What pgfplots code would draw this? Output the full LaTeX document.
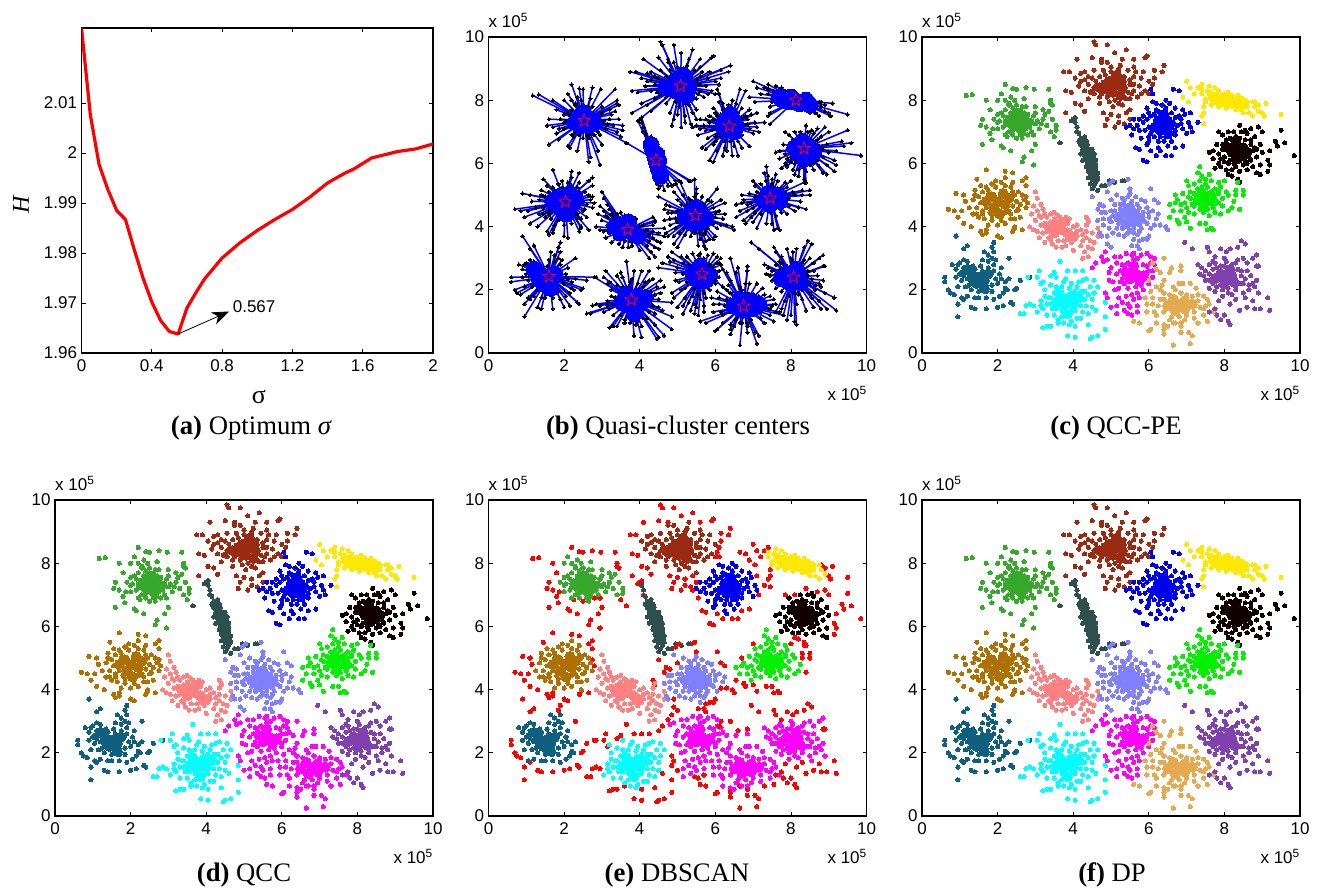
\documentclass[border=0pt]{standalone}
\usepackage{pgfplots}
\usepackage{fontspec}
\pgfplotsset{compat=1.18}
\usetikzlibrary{arrows.meta}
\setmainfont{Liberation Sans}
\newfontfamily\ser{Liberation Serif}
\definecolor{cgreen}{HTML}{36A82B}\definecolor{cbrown}{HTML}{9A2B12}\definecolor{cblue}{HTML}{0000F0}
\definecolor{cyel}{HTML}{FFE800}\definecolor{cslate}{HTML}{2F4F4F}\definecolor{cblack}{HTML}{100000}
\definecolor{corange}{HTML}{B07000}\definecolor{csalmon}{HTML}{FF8080}\definecolor{cperi}{HTML}{8080FF}
\definecolor{clime}{HTML}{00F000}\definecolor{cteal}{HTML}{0F6080}\definecolor{ccyan}{HTML}{00FFFF}
\definecolor{cmag}{HTML}{FF00FF}\definecolor{csand}{HTML}{E5AA50}\definecolor{cpurp}{HTML}{8040B0}
\pgfdeclareplotmark{ostar}{%
 \pgfpathmoveto{\pgfpointpolar{90}{\pgfplotmarksize}}%
 \pgfpathlineto{\pgfpointpolar{126}{0.42\pgfplotmarksize}}\pgfpathlineto{\pgfpointpolar{162}{\pgfplotmarksize}}%
 \pgfpathlineto{\pgfpointpolar{198}{0.42\pgfplotmarksize}}\pgfpathlineto{\pgfpointpolar{234}{\pgfplotmarksize}}%
 \pgfpathlineto{\pgfpointpolar{270}{0.42\pgfplotmarksize}}\pgfpathlineto{\pgfpointpolar{306}{\pgfplotmarksize}}%
 \pgfpathlineto{\pgfpointpolar{342}{0.42\pgfplotmarksize}}\pgfpathlineto{\pgfpointpolar{18}{\pgfplotmarksize}}%
 \pgfpathlineto{\pgfpointpolar{54}{0.42\pgfplotmarksize}}\pgfpathclose\pgfusepathqstroke}
% ---------- cluster tables: K core, M middle, A retained, B outer
\pgfplotstableread[row sep=\\]{x y\\2.55 7.35\\2.4 7.45\\2.7 7.4\\2.45 7.2\\2.65 7.2\\2.5 7.6\\2.3 7.3\\2.8 7.3\\}\tKa
\pgfplotstableread[row sep=\\]{x y\\2.1 7.6\\2.25 7.45\\2.35 7.6\\2.5 7.85\\2.65 7.8\\2.8 7.55\\2.95 7.5\\3.05 7.35\\2.9 7.35\\3.15 7.25\\2.85 7.15\\2.75 7.1\\2.55 7.05\\2.35 7.15\\2.15 7.15\\2.05 7.35\\2.2 7.35\\2.3 7.85\\2.45 8.0\\2.75 7.8\\3.0 7.8\\3.25 7.55\\3.45 7.4\\2.6 6.9\\2.2 6.9\\2.0 7.55\\2.35 8.1\\2.7 8.05\\}\tMa
\pgfplotstableread[row sep=\\]{x y\\2.0 8.0\\2.1 8.2\\2.2 8.0\\2.3 7.9\\2.2 7.7\\2.4 7.75\\2.6 7.7\\2.7 7.6\\3 7.6\\3.2 7.7\\3.35 7.65\\3.2 7.4\\3.3 7.2\\3.55 7.2\\3.55 7.05\\3.4 7\\3.1 7.1\\3 7.25\\2.9 7.0\\2.7 6.95\\2.6 7.0\\2.4 7.05\\2.3 7.0\\2.2 7.25\\2.0 7.1\\2.0 7.3\\2.15 7.5\\1.9 7.4\\2.4 6.9\\2.65 6.8\\}\tAa
\pgfplotstableread[row sep=\\]{x y\\1.17 8.15\\1.33 8.18\\2.2 8.5\\2.5 8.35\\2.4 8.37\\2.75 8.4\\2.97 8.35\\3.35 8.35\\3.4 8.0\\3.4 7.9\\3.45 7.85\\1.7 8.0\\1.8 7.7\\1.6 7.4\\1.55 7.2\\1.7 7.15\\1.87 7.1\\1.8 6.95\\1.85 6.75\\1.6 6.6\\2.1 6.55\\2.15 6.5\\2.25 6.85\\2.5 6.8\\2.8 6.9\\2.95 6.9\\3.0 6.6\\2.35 6.4\\2.9 6.4\\3.5 6.85\\3.65 6.65\\2.65 6.05\\2.7 6.2\\2.95 5.95\\}\tBa
\pgfplotstableread[row sep=\\]{x y\\5.1 8.5\\4.95 8.6\\5.2 8.65\\5.3 8.4\\4.9 8.35\\5.05 8.25\\5.15 8.8\\4.85 8.5\\5.25 8.15\\4.7 8.4\\}\tKb
\pgfplotstableread[row sep=\\]{x y\\4.5 8.3\\4.6 8.6\\4.7 8.75\\4.85 8.8\\5.0 8.9\\5.2 9.0\\5.35 8.6\\5.5 8.65\\5.6 8.5\\5.55 8.2\\5.4 8.05\\5.1 8.0\\4.9 8.1\\4.75 8.2\\4.55 8.4\\5.65 8.9\\4.4 8.75\\4.3 8.9\\5.05 7.8\\5.5 7.7\\5.9 8.3\\6.0 8.6\\5.0 8.7\\4.45 8.25\\4.2 8.6\\5.3 9.3\\4.9 9.2\\5.8 8.2\\}\tMb
\pgfplotstableread[row sep=\\]{x y\\4.05 8.7\\4.2 8.85\\4.15 8.45\\4.3 8.65\\4.4 8.5\\4.5 8.7\\4.55 8.95\\4.3 8.3\\4.55 8.2\\4.7 8.1\\4.4 8.05\\4.7 7.9\\4.95 7.95\\5.2 7.9\\5.3 7.85\\5.5 8.05\\5.6 8.3\\5.75 8.45\\5.8 8.7\\5.6 8.75\\5.45 8.95\\5.25 9.1\\5.6 9.05\\5.85 8.9\\5.0 9.05\\4.8 8.95\\5.35 8.75\\5.5 8.5\\5.45 8.25\\4.6 8.45\\5.7 8.1\\4.75 9.2\\}\tAb
\pgfplotstableread[row sep=\\]{x y\\4.55 9.85\\4.6 9.75\\4.9 9.75\\5.4 9.6\\5.1 9.5\\4.5 9.35\\4.75 9.3\\3.75 8.9\\3.9 8.9\\4.1 9.3\\5.6 9.3\\5.9 9.35\\5.95 9.4\\6.15 8.95\\6.4 9.1\\6.15 8.7\\6.35 8.9\\6.1 8.5\\3.8 8.3\\3.95 8.25\\3.8 7.6\\4.05 7.9\\4.2 7.85\\4.3 7.65\\4.0 7.4\\4.8 7.6\\5.0 7.55\\5.2 7.5\\5.4 7.6\\5.2 7.3\\4.9 7.4\\5.35 7.25\\4.85 7.2\\5.1 7.15\\5.5 7.4\\6.0 8.2\\}\tBb
\pgfplotstableread[row sep=\\]{x y\\6.37 7.2\\6.25 7.35\\6.5 7.35\\6.3 7.05\\6.5 7.0\\6.4 7.55\\6.2 7.15\\6.55 7.2\\}\tKc
\pgfplotstableread[row sep=\\]{x y\\5.95 7.4\\6.05 7.5\\6.15 7.55\\6.25 7.65\\6.45 7.75\\6.6 7.6\\6.7 7.45\\6.65 7.3\\6.7 7.05\\6.6 6.95\\6.45 6.85\\6.3 6.85\\6.1 7.05\\6.0 7.15\\6.4 6.7\\6.25 6.7\\6.55 6.85\\6.85 7.25\\5.75 7.4\\6.2 7.9\\6.45 8.0\\6.0 6.85\\5.95 6.6\\6.3 6.4\\7.1 7.15\\5.75 7.05\\}\tMc
\pgfplotstableread[row sep=\\]{x y\\6.1 7.95\\6.35 7.85\\6.55 7.9\\6.7 7.75\\6.9 7.7\\6.95 7.55\\6.85 7.4\\7.05 7.3\\6.75 7.2\\6.9 7.1\\7.0 6.95\\6.7 6.9\\6.6 6.7\\6.5 6.55\\6.25 6.5\\6.0 6.7\\5.8 6.8\\6.05 6.95\\5.9 7.05\\5.7 7.2\\5.6 7.4\\5.85 7.5\\5.6 7.1\\5.85 7.3\\6.0 7.6\\5.95 7.75\\6.2 7.7\\6.1 7.2\\6.15 6.85\\6.8 7.5\\5.5 7.2\\}\tAc
\pgfplotstableread[row sep=\\]{x y\\6.05 8.35\\6.1 8.2\\6.65 8.35\\6.8 8.3\\5.4 7.15\\5.55 6.9\\7.1 7.6\\7.3 7.3\\7.15 7.0\\5.65 6.5\\5.75 6.45\\5.85 6.1\\5.95 6.05\\6.05 6.4\\6.2 6.25\\6.45 6.25\\6.6 6.25\\6.7 6.5\\6.9 6.55\\}\tBc
\pgfplotstableread[row sep=\\]{x y\\7.7 8.1\\7.9 8.05\\8.1 8.0\\8.3 7.95\\8.5 7.85\\7.8 8.0\\8.0 8.1\\8.2 7.9\\8.4 8.0\\7.95 7.95\\}\tKd
\pgfplotstableread[row sep=\\]{x y\\7.6 8.2\\7.8 8.2\\8.0 8.2\\8.2 8.1\\8.4 7.9\\8.6 7.8\\8.6 7.95\\7.8 7.95\\7.65 8.25\\7.5 8.05\\8.2 8.15\\8.1 7.9\\8.35 7.8\\8.65 7.6\\8.45 7.7\\}\tMd
\pgfplotstableread[row sep=\\]{x y\\7.4 8.2\\7.4 8.35\\7.55 8.3\\7.6 8.45\\7.75 8.4\\7.85 8.3\\8.1 8.25\\8.35 8.15\\8.55 8.0\\8.75 7.95\\8.8 7.8\\8.9 7.65\\8.75 7.5\\8.5 7.6\\8.3 7.7\\8.05 7.75\\7.85 7.8\\7.65 7.85\\7.5 7.95\\}\tAd
\pgfplotstableread[row sep=\\]{x y\\7 8.6\\6.9 8.1\\7.1 8.4\\7.3 8.4\\7.4 8.5\\7.2 8.2\\7.05 7.95\\7.45 7.8\\7.45 7.6\\7.4 7.5\\8.8 7.95\\9.1 7.9\\8.9 7.85\\9.0 7.6\\9.05 7.5\\9.5 7.55\\7.45 7.25\\}\tBd
\pgfplotstableread[row sep=\\]{x y\\4.3 6.6\\4.35 6.4\\4.4 6.2\\4.45 6.0\\4.5 5.8\\4.55 5.6\\4.45 6.3\\4.5 6.1\\}\tKe
\pgfplotstableread[row sep=\\]{x y\\4.2 6.6\\4.3 6.75\\4.35 6.55\\4.3 6.25\\4.35 6.1\\4.35 5.9\\4.4 5.95\\4.6 6.1\\4.6 5.85\\4.55 6.3\\4.5 6.45\\4.45 5.65\\4.5 5.5\\4.55 5.3\\4.65 5.5\\4.2 6.65\\4.25 6.45\\4.35 6.7\\}\tMe
\pgfplotstableread[row sep=\\]{x y\\4.05 7.3\\4.1 7.15\\4.15 6.95\\4.2 6.8\\4.15 6.7\\4.3 6.85\\4.25 6.55\\4.2 6.3\\4.25 6.1\\4.4 5.75\\4.4 5.55\\4.45 5.35\\4.6 5.95\\4.65 5.7\\4.6 5.4\\4.5 5.2\\4.75 5.3\\4.65 5.15\\4.85 5.3\\4.95 5.45\\5.1 5.4\\5.3 5.45\\}\tAe
\pgfplotstableread[row sep=\\]{x y\\3.95 7.35\\4.05 7.45\\4.1 7.0\\3.65 6.65\\5.35 5.45\\}\tBe
\pgfplotstableread[row sep=\\]{x y\\8.35 6.45\\8.2 6.35\\8.5 6.5\\8.3 6.7\\8.45 6.25\\8.1 6.5\\8.6 6.35\\8.35 6.15\\}\tKf
\pgfplotstableread[row sep=\\]{x y\\7.85 6.3\\7.95 6.45\\7.95 6.6\\8.05 6.65\\8.15 6.8\\8.4 6.8\\8.55 6.75\\8.7 6.75\\8.75 6.4\\8.8 6.5\\8.65 6.2\\8.55 6.1\\8.5 5.95\\8.25 6.0\\8.15 6.1\\7.9 6.15\\8.6 6.0\\8.3 5.9\\8.0 6.05\\7.9 5.9\\8.75 5.9\\8.85 6.45\\8.25 7.0\\8.55 7.05\\8.05 5.8\\}\tMf
\pgfplotstableread[row sep=\\]{x y\\7.7 6.4\\7.8 6.6\\7.95 6.9\\8.05 6.75\\8.3 6.85\\8.45 7.0\\8.6 6.95\\8.8 6.85\\8.95 6.6\\9.0 6.35\\8.85 6.2\\8.95 5.95\\8.85 5.7\\8.95 5.65\\8.6 5.8\\8.4 5.75\\8.2 5.8\\8.1 6.0\\7.85 6.0\\7.7 6.15\\7.6 6.35\\7.75 5.85\\8.0 6.2\\8.7 6.6\\8.7 6.1\\}\tAf
\pgfplotstableread[row sep=\\]{x y\\8.4 7.2\\8.7 7.1\\8.9 7.15\\8.1 7.0\\7.85 7.0\\9.0 7.0\\9.2 6.4\\9.15 6.1\\9.2 5.95\\9.15 5.75\\9.35 6.7\\9.4 6.55\\9.5 7.05\\9.6 6.65\\9.85 6.25\\8.2 5.6\\8.35 5.5\\8.4 5.4\\8.1 5.65\\}\tBf
\pgfplotstableread[row sep=\\]{x y\\2.03 4.8\\1.85 4.95\\2.15 5.05\\2.2 4.7\\1.9 4.6\\2.05 4.4\\1.7 4.8\\2.3 4.9\\}\tKg
\pgfplotstableread[row sep=\\]{x y\\1.5 4.95\\1.6 5.1\\1.75 5.15\\1.95 5.25\\2.2 5.3\\2.35 5.25\\2.45 5.0\\2.5 4.8\\2.4 4.65\\2.3 4.5\\2.2 4.45\\1.8 4.45\\1.7 4.6\\1.55 4.75\\1.45 4.4\\1.85 4.35\\2.35 4.4\\2.55 4.55\\2.65 5.0\\2.1 5.4\\1.85 5.35\\1.6 4.4\\2.1 4.2\\2.45 4.25\\1.75 4.05\\1.4 5.0\\}\tMg
\pgfplotstableread[row sep=\\]{x y\\1.4 5.15\\1.35 4.85\\1.45 4.6\\1.55 5.3\\1.7 5.25\\1.95 5.45\\2.2 5.55\\2.4 5.4\\2.55 5.1\\2.7 4.85\\2.6 4.7\\2.75 4.6\\2.5 4.5\\2.6 4.3\\2.35 4.25\\2.2 4.1\\2.0 4.05\\1.85 4.2\\1.65 4.25\\1.5 4.3\\1.35 4.4\\1.25 4.6\\1.6 4.5\\2.45 4.0\\1.75 5.0\\2.4 5.1\\}\tAg
\pgfplotstableread[row sep=\\]{x y\\0.7 4.55\\0.85 4.5\\0.95 4.3\\1.1 4.1\\1.05 4.5\\1.1 5.0\\0.9 5.05\\1.15 4.8\\1.45 5.5\\1.7 5.8\\2.2 5.75\\2.4 5.7\\2.65 5.45\\2.75 5.3\\2.75 5.55\\2.75 4.95\\2.8 4.75\\1.55 3.85\\1.7 3.9\\1.6 3.75\\1.7 3.8\\2.0 3.7\\2.1 3.65\\2.4 3.85\\2.45 3.95\\2.65 3.9\\1.3 4.0\\}\tBg
\pgfplotstableread[row sep=\\]{x y\\3.7 3.9\\3.55 4.05\\3.85 3.8\\3.5 3.8\\3.7 4.15\\3.95 3.7\\3.35 4.0\\}\tKh
\pgfplotstableread[row sep=\\]{x y\\3.3 3.85\\3.4 4.15\\3.5 4.25\\3.65 4.3\\3.85 4.1\\4.0 4.0\\4.1 3.85\\4.25 3.75\\4.1 3.7\\3.95 3.5\\3.75 3.55\\3.6 3.55\\3.4 3.6\\3.2 3.8\\3.15 4.05\\3.15 4.3\\3.45 3.45\\3.85 3.6\\4.35 3.65\\4.45 3.55\\4.2 3.4\\3.7 3.35\\3.25 4.4\\4.35 4.05\\3.5 4.45\\3.8 4.3\\2.95 4.65\\3.1 4.35\\}\tMh
\pgfplotstableread[row sep=\\]{x y\\2.85 4.0\\2.95 3.9\\3.0 4.2\\2.9 4.4\\3.05 4.5\\3.15 4.7\\3.05 4.9\\3.0 5.1\\3.2 4.55\\3.3 4.3\\3.4 4.4\\3.6 4.35\\3.9 4.25\\4.1 4.05\\4.2 3.9\\4.35 3.85\\4.5 3.8\\4.65 3.7\\4.55 3.5\\4.4 3.35\\4.3 3.2\\4.25 3.0\\4.4 3.05\\4.5 3.3\\4.0 3.25\\3.8 3.4\\3.55 3.35\\3.25 3.5\\3.1 3.65\\3.35 3.65\\3.05 3.85\\4.05 3.6\\4.25 3.55\\4.65 3.95\\3.25 4.1\\4.4 4.2\\}\tAh
\pgfplotstableread[row sep=\\]{x y\\4.35 4.3\\4.4 4.15\\}\tBh
\pgfplotstableread[row sep=\\]{x y\\5.5 4.3\\5.35 4.45\\5.65 4.4\\5.4 4.1\\5.6 4.15\\5.5 4.6\\5.2 4.3\\5.75 4.25\\}\tKi
\pgfplotstableread[row sep=\\]{x y\\5.05 4.35\\5.1 4.5\\5.25 4.55\\5.35 4.7\\5.55 4.8\\5.75 4.6\\5.85 4.45\\5.85 4.3\\5.9 4.15\\5.75 4.05\\5.6 3.95\\5.45 3.8\\5.3 3.95\\5.2 4.1\\4.95 4.25\\5.35 4.85\\5.45 4.95\\5.05 3.8\\5.6 3.8\\6.0 4.45\\4.8 4.25\\5.2 3.75\\5.75 3.85\\6.05 3.95\\4.75 4.45\\5.8 4.85\\}\tMi
\pgfplotstableread[row sep=\\]{x y\\4.65 4.2\\4.8 4.05\\4.95 3.95\\4.85 4.45\\5.0 4.5\\5.1 4.7\\5.3 4.9\\5.5 5.05\\5.65 4.95\\5.7 4.7\\5.95 4.6\\6.1 4.5\\6.25 4.4\\6.0 4.3\\6.2 4.25\\5.95 4.1\\5.8 3.95\\5.7 3.75\\5.5 3.9\\5.35 3.7\\5.15 3.95\\5.0 4.15\\4.7 3.8\\5.9 4.8\\5.25 4.7\\4.9 5.1\\5.15 5.0\\4.75 3.7\\5.6 3.6\\}\tAi
\pgfplotstableread[row sep=\\]{x y\\4.5 4.95\\4.7 4.7\\4.65 4.55\\4.8 4.65\\5.0 4.85\\4.95 5.35\\5.45 5.5\\5.5 5.2\\5.05 5.45\\6.05 5.2\\6.15 4.85\\6.25 4.75\\5.75 3.55\\5.7 3.4\\5.85 3.6\\5.95 3.6\\6.0 3.7\\5.75 3.3\\4.9 3.45\\5.0 3.35\\4.9 3.7\\6.3 4.05\\6.45 4.0\\6.5 3.9\\6.15 4.05\\5.55 3.4\\}\tBi
\pgfplotstableread[row sep=\\]{x y\\7.5 4.9\\7.4 5.05\\7.65 5.0\\7.45 4.7\\7.7 4.8\\7.3 4.85\\}\tKj
\pgfplotstableread[row sep=\\]{x y\\6.95 4.75\\7.05 4.95\\7.15 4.7\\7.2 5.05\\7.3 5.0\\7.2 4.65\\7.35 4.55\\7.55 4.55\\7.7 4.6\\7.85 4.75\\7.95 4.9\\7.85 5.05\\7.75 5.2\\7.55 5.25\\7.4 5.25\\7.5 5.35\\7.1 5.1\\6.85 4.5\\8.05 5.1\\7.75 4.45\\7.05 4.45\\7.4 5.6\\7.6 5.65\\7.9 5.25\\6.75 4.85\\}\tMj
\pgfplotstableread[row sep=\\]{x y\\6.55 4.7\\6.7 4.75\\6.65 4.5\\6.85 4.7\\6.9 5.05\\7.05 5.3\\7.0 4.6\\7.2 5.35\\7.3 5.2\\7.1 4.9\\7.35 5.45\\7.3 5.7\\7.35 5.9\\7.5 5.5\\7.65 5.45\\7.85 5.4\\8.1 5.0\\8.25 4.8\\7.95 4.65\\8.2 4.6\\8.1 4.5\\7.9 4.4\\7.6 4.35\\7.45 4.45\\7.2 4.4\\6.95 4.3\\7.85 5.1\\}\tAj
\pgfplotstableread[row sep=\\]{x y\\6.7 5.0\\6.75 4.2\\6.55 4.3\\6.8 4.1\\7.0 4.15\\7.35 4.1\\7.5 4.1\\7.55 3.9\\7.65 3.95\\7.7 3.9\\8.3 5.15\\8.3 5.0\\8.5 5.15\\8.5 5.0\\8.35 5.4\\8.0 5.45\\8.4 4.55\\7.1 3.95\\7.0 5.45\\}\tBj
\pgfplotstableread[row sep=\\]{x y\\1.5 2.4\\1.3 2.55\\1.65 2.3\\1.45 2.2\\1.2 2.65\\1.75 2.5\\1.35 2.35\\1.65 2.05\\}\tKk
\pgfplotstableread[row sep=\\]{x y\\1.05 2.55\\1.1 2.7\\1.0 2.85\\1.35 2.75\\1.4 2.65\\1.6 2.6\\1.75 2.7\\1.9 2.6\\1.95 2.35\\2.0 2.2\\1.85 1.95\\1.55 2.15\\1.3 2.2\\1.25 2.15\\1.2 2.35\\1.1 2.45\\.9 2.65\\1.6 2.95\\1.95 2.95\\2.1 2.35\\2.2 2.05\\1.5 1.75\\.95 2.1\\.9 2.4\\1.7 1.75\\1.85 3.0\\}\tMk
\pgfplotstableread[row sep=\\]{x y\\.8 2.8\\.95 2.8\\1.1 2.95\\1.2 2.9\\1.25 2.6\\1.0 2.5\\1.05 2.3\\1.15 2.1\\1.3 2.0\\1.5 1.95\\1.7 1.95\\1.9 1.7\\2.05 1.8\\2.15 1.9\\2.25 2.0\\2.2 2.25\\2.3 2.35\\2.05 2.5\\2.1 2.7\\1.9 2.8\\1.75 2.9\\1.75 3.1\\1.9 3.2\\1.65 3.2\\1.55 2.75\\1.05 1.75\\1.2 1.8\\1.4 1.75\\1.85 2.15\\}\tAk
\pgfplotstableread[row sep=\\]{x y\\0.9 3.7\\1.2 3.4\\1.1 3.3\\1.9 3.5\\1.85 3.35\\2.3 3.0\\.6 2.4\\.6 2.25\\.7 2.0\\.75 1.9\\.85 1.85\\.95 1.55\\.95 1.15\\1.1 1.7\\1.3 1.45\\1.4 1.4\\1.7 1.4\\2.0 1.45\\2.15 1.5\\2.35 1.6\\2.4 1.55\\2.45 2.0\\2.5 2.05\\2.6 2.3\\2.85 2.4\\}\tBk
\pgfplotstableread[row sep=\\]{x y\\3.8 1.7\\3.65 1.85\\3.95 1.8\\3.75 1.5\\4.0 1.55\\3.55 1.6\\3.85 1.25\\4.15 1.75\\}\tKl
\pgfplotstableread[row sep=\\]{x y\\3.4 1.75\\3.5 1.9\\3.55 2.1\\3.7 2.1\\3.9 2.05\\4.05 1.95\\4.2 1.95\\4.3 1.7\\4.2 1.5\\4.05 1.35\\3.95 1.3\\3.7 1.35\\3.55 1.4\\3.4 1.55\\3.8 2.35\\4.15 2.25\\3.25 1.8\\3.15 1.5\\4.55 1.9\\3.6 1.05\\3.9 .9\\4.2 1.1\\4.4 1.25\\3.2 2.25\\4.55 2.3\\3.75 .95\\}\tMl
\pgfplotstableread[row sep=\\]{x y\\3.05 1.3\\3.2 1.4\\3.3 1.55\\3.15 1.65\\3.35 1.75\\3.25 2.0\\3.4 2.15\\3.55 2.4\\3.75 2.25\\3.95 2.2\\4.1 2.1\\4.25 2.3\\4.35 2.35\\4.45 2.1\\4.65 2.1\\4.3 1.95\\4.5 1.7\\4.35 1.5\\4.5 1.45\\4.25 1.3\\4.1 1.1\\3.95 1.0\\3.7 1.15\\3.5 1.2\\3.3 1.2\\3.6 2.0\\4.4 1.85\\3.45 1.4\\}\tAl
\pgfplotstableread[row sep=\\]{x y\\3.05 2.4\\3.15 2.2\\3.1 2.6\\3.4 2.45\\3.5 2.55\\3.65 2.9\\3.85 2.6\\4.05 2.6\\4.25 2.6\\2.6 1.25\\2.7 1.25\\2.75 1.5\\2.95 1.5\\2.85 1.55\\3.2 .8\\3.3 .85\\3.4 .85\\3.6 .95\\3.85 .55\\4.05 .5\\4.05 .85\\4.45 .45\\4.5 .5\\4.4 .9\\4.65 .55\\4.85 .75\\4.85 1.15\\4.6 1.35\\4.85 1.6\\2.8 2.4\\}\tBl
\pgfplotstableread[row sep=\\]{x y\\5.65 2.5\\5.5 2.35\\5.75 2.3\\5.6 2.75\\5.85 2.45\\5.4 2.55\\}\tKm
\pgfplotstableread[row sep=\\]{x y\\5.15 2.5\\5.25 2.6\\5.3 2.8\\5.45 2.85\\5.6 2.95\\5.7 3.0\\5.85 2.8\\5.95 2.75\\6.0 2.6\\5.95 2.35\\5.8 2.15\\5.65 2.1\\5.45 2.05\\5.35 2.2\\5.3 2.35\\5.55 1.85\\5.4 1.8\\5.2 2.05\\4.95 2.55\\5.1 3.05\\5.75 1.75\\6.1 2.6\\6.05 3.05\\5.15 1.5\\5.5 1.45\\5.6 3.15\\}\tMm
\pgfplotstableread[row sep=\\]{x y\\4.8 2.9\\4.9 2.95\\5.0 2.7\\5.15 2.85\\5.25 3.05\\5.4 3.15\\5.55 3.1\\5.8 3.1\\5.95 3.15\\6.05 2.85\\6.15 2.8\\5.95 2.55\\6.1 2.4\\6.0 2.2\\5.85 2.0\\5.7 1.9\\5.6 1.7\\5.45 1.55\\5.3 1.6\\5.2 1.75\\5.1 2.0\\5.25 2.25\\5.05 2.25\\4.95 2.3\\5.35 2.75\\5.7 1.5\\5.35 1.35\\5.15 1.25\\}\tAm
\pgfplotstableread[row sep=\\]{x y\\4.5 2.7\\4.6 2.85\\4.85 3.2\\4.75 3.05\\4.85 1.9\\4.9 1.75\\5.0 1.45\\5.45 1.25\\5.55 1.2\\5.7 1.3\\6.15 3.0\\}\tBm
\pgfplotstableread[row sep=\\]{x y\\6.8 1.55\\6.65 1.7\\6.95 1.65\\6.7 1.35\\6.95 1.4\\6.5 1.5\\7.15 1.55\\}\tKn
\pgfplotstableread[row sep=\\]{x y\\6.25 1.5\\6.3 1.7\\6.4 1.7\\6.55 1.85\\6.7 2.0\\6.85 1.9\\7.0 1.85\\7.15 1.8\\7.3 1.65\\7.35 1.45\\7.2 1.3\\7.0 1.2\\6.8 1.15\\6.6 1.15\\6.4 1.3\\6.1 1.75\\6.15 1.3\\6.55 1.05\\7.5 1.5\\7.45 1.4\\6.5 .85\\6.8 2.2\\6.35 2.15\\7.55 1.7\\6.85 .95\\6.2 .95\\5.95 1.55\\}\tMn
\pgfplotstableread[row sep=\\]{x y\\5.9 1.75\\6.05 1.95\\6.2 2.1\\6.3 2.0\\6.4 2.3\\6.55 2.55\\6.3 2.55\\6.0 2.3\\6.2 2.65\\6.85 2.6\\7.1 2.2\\7.25 2.05\\7.45 1.8\\7.6 1.55\\7.7 1.3\\7.45 1.2\\7.2 1.1\\6.95 1.05\\6.7 .95\\6.4 .9\\6.2 1.2\\5.95 1.3\\6.1 1.55\\6.4 1.9\\6.65 2.1\\6.9 2.2\\7.3 1.85\\}\tAn
\pgfplotstableread[row sep=\\]{x y\\5.6 1.0\\5.75 .95\\6.05 .75\\6.0 .7\\6.4 .6\\6.4 .75\\6.65 .95\\6.85 .65\\7.05 .65\\7.15 .55\\7.1 .3\\6.65 .25\\6.85 .85\\7.3 .95\\7.55 1.0\\7.8 1.2\\6.4 3.0\\6.6 2.7\\6.85 2.75\\6.1 2.85\\}\tBn
\pgfplotstableread[row sep=\\]{x y\\8.05 2.4\\7.9 2.5\\8.2 2.45\\8.0 2.2\\8.25 2.25\\7.75 2.35\\8.15 2.65\\}\tKo
\pgfplotstableread[row sep=\\]{x y\\7.6 2.5\\7.6 2.3\\7.7 2.2\\7.7 2.65\\7.8 2.7\\8.0 2.75\\8.2 2.8\\8.35 2.65\\8.45 2.45\\8.5 2.2\\8.3 2.1\\8.1 2.05\\7.9 2.15\\7.8 2.1\\7.45 2.45\\8.6 2.6\\8.75 2.2\\7.7 2.9\\8.35 2.95\\8.65 2.15\\8.2 1.85\\7.95 1.8\\8.55 1.75\\8.85 2.3\\8.0 3.0\\}\tMo
\pgfplotstableread[row sep=\\]{x y\\7.3 2.8\\7.4 2.7\\7.35 2.5\\7.5 2.3\\7.6 2.05\\7.75 1.95\\7.95 2.0\\8.1 1.9\\8.3 2.0\\8.5 1.9\\8.65 2.0\\8.8 2.1\\8.9 1.9\\8.55 2.35\\8.45 2.6\\8.6 2.85\\8.75 3.0\\8.85 3.1\\8.5 3.0\\8.3 2.85\\8.05 2.9\\7.75 2.85\\7.6 2.8\\7.9 2.75\\7.5 2.6\\8.7 2.45\\8.4 2.2\\}\tAo
\pgfplotstableread[row sep=\\]{x y\\6.95 3.5\\7.15 3.3\\7.55 3.35\\7.6 3.2\\7.9 3.3\\8.05 3.2\\8.15 3.3\\8.35 3.35\\8.45 3.55\\8.55 3.45\\7.75 3.05\\9.15 1.75\\9.2 1.35\\8.95 1.4\\8.75 1.65\\8.6 1.45\\8.3 1.7\\8.15 1.55\\8.4 1.35\\7.85 1.65\\8.0 1.2\\8.1 1.0\\7.9 1.05\\8.15 .9\\7.75 1.4\\7.6 1.3\\7.8 1.2\\8.85 2.75\\8.9 2.75\\8.8 1.4\\}\tBo
% ---------- plotting helpers
\pgfplotsset{
 base/.style={scale only axis, tick align=inside, major tick length=4pt,
  axis line style={line width=1.1pt}, tick style={black,line width=.8pt},
  ticklabel style={font=\fontsize{17}{20}\selectfont},
  xticklabel style={yshift=-3pt}, yticklabel style={xshift=-1pt}},
 sc/.style={base, width=378pt, height=316pt, xmin=0,xmax=10,ymin=0,ymax=10,
  xtick={0,2,4,6,8,10},ytick={0,2,4,6,8,10},
  xticklabels={0,2,4,6,8,10},yticklabels={0,2,4,6,8,10}},
 pdot/.style={only marks, mark=*, mark size=2.1pt, mark options={solid,line width=0pt}},
 pcore/.style={only marks, mark=*, mark size=5pt, mark options={solid,line width=0pt}},
}
% #1 colour of cluster n, #2 colour of cluster o, #3 options of the outer points
\newcommand\clusters[3]{%
 \def\cl##1##2##3##4##5{%
  \addplot[pdot,color=##5,#3] table[x=x,y=y]{##3};
  \addplot[pdot,color=##5] table[x=x,y=y]{##2};
  \addplot[pdot,color=##5] table[x=x,y=y]{##4};
  \addplot[pcore,color=##5] table[x=x,y=y]{##1};}%
 \cl\tKa\tAa\tBa\tMa{cgreen}\cl\tKb\tAb\tBb\tMb{cbrown}\cl\tKc\tAc\tBc\tMc{cblue}\cl\tKd\tAd\tBd\tMd{cyel}%
 \cl\tKe\tAe\tBe\tMe{cslate}\cl\tKf\tAf\tBf\tMf{cblack}\cl\tKg\tAg\tBg\tMg{corange}\cl\tKh\tAh\tBh\tMh{csalmon}%
 \cl\tKi\tAi\tBi\tMi{cperi}\cl\tKj\tAj\tBj\tMj{clime}\cl\tKk\tAk\tBk\tMk{cteal}\cl\tKl\tAl\tBl\tMl{ccyan}%
 \cl\tKm\tAm\tBm\tMm{cmag}\cl\tKn\tAn\tBn\tMn{#1}\cl\tKo\tAo\tBo\tMo{#2}}
% #1 K, #2 A, #3 B, #4 M, #5 cx, #6 cy
\newcommand\qcstar[6]{%
 \addplot[pdot,color=black,mark size=1.7pt] table[x=x,y=y]{#2};
 \addplot[pdot,color=black,mark size=1.7pt] table[x=x,y=y]{#3};
 \addplot[pdot,color=black,mark size=1.7pt] table[x=x,y=y]{#4};
 \addplot[blue,line width=1.5pt,no marks,quiver={u={#5-\thisrow{x}},v={#6-\thisrow{y}}}] table[x=x,y=y]{#2};
 \addplot[blue,line width=1.5pt,no marks,quiver={u={#5-\thisrow{x}},v={#6-\thisrow{y}}}] table[x=x,y=y]{#3};
 \addplot[blue,line width=1.5pt,no marks,quiver={u={#5-\thisrow{x}},v={#6-\thisrow{y}}}] table[x=x,y=y]{#4};
 \addplot[only marks,mark=*,mark size=8pt,color=blue,mark options={line width=0pt}] table[x=x,y=y]{#1};
 \addplot[only marks,mark=ostar,mark size=6.5pt,color=red,mark options={line width=.8pt}] coordinates {(#5,#6)};}
\newcommand\xten[2]{\node[anchor=base west,inner sep=0pt,font=\fontsize{17}{20}\selectfont] at (#1pt,#2pt) {x 10\textsuperscript{5}};}
\newcommand\xtenr[2]{\node[anchor=base east,inner sep=0pt,font=\fontsize{17}{20}\selectfont] at (#1pt,#2pt) {x 10\textsuperscript{5}};}
\newcommand\capt[4]{\node[inner sep=0pt,font=\fontsize{26.7}{31}\selectfont\ser] at (#1pt,#2pt) {{\bfseries(#3)} #4};}
\begin{document}
\begin{tikzpicture}[x=1pt,y=1pt]
\useasboundingbox (0,0) rectangle (1320,889);
% (a)
\begin{axis}[base, at={(81.5pt,536pt)}, anchor=south west, width=351.5pt, height=325pt,
 xmin=0,xmax=2,ymin=1.96,ymax=2.025,
 xtick={0,0.4,0.8,1.2,1.6,2},xticklabels={0,0.4,0.8,1.2,1.6,2},
 ytick={1.96,1.97,1.98,1.99,2,2.01},yticklabels={1.96,1.97,1.98,1.99,2,2.01}]
\addplot[red,line width=3.2pt,line join=round] coordinates {(0,2.025)(0.05,2.0077)(0.1,1.9977)(0.15,1.9927)(0.2,1.9885)(0.25,1.9867)(0.3,1.9807)(0.35,1.975)(0.4,1.9702)(0.45,1.9665)(0.5,1.9643)(0.55,1.9638)(0.6,1.969)(0.65,1.972)(0.7,1.9748)(0.8,1.979)(0.9,1.982)(1.0,1.9845)(1.1,1.9867)(1.2,1.9887)(1.3,1.9912)(1.4,1.994)(1.5,1.996)(1.55,1.9968)(1.65,1.999)(1.8,2.0003)(1.9,2.0008)(2,2.0018)};
\draw[line width=.8pt,-{Stealth[length=17pt,width=13pt,inset=5pt]}] (axis cs:0.55,1.9638) -- (axis cs:0.84,1.9683);
\node[anchor=west,inner sep=0pt,font=\fontsize{17}{20}\selectfont] at (axis cs:0.86,1.9692) {0.567};
\end{axis}
\node[rotate=90,inner sep=0pt,font=\fontsize{24}{28}\selectfont\ser\itshape] at (21pt,684pt) {H};
\node[inner sep=0pt,font=\fontsize{26}{30}\selectfont\ser] at (259pt,492pt) {σ};
\capt{251}{461}{a}{Optimum {\itshape σ}}
% (b)
\begin{axis}[sc, at={(488.5pt,536pt)}, anchor=south west]
\qcstar\tKa\tAa\tBa\tMa{2.53}{7.35}\qcstar\tKb\tAb\tBb\tMb{5.08}{8.45}\qcstar\tKc\tAc\tBc\tMc{6.37}{7.18}
\qcstar\tKd\tAd\tBd\tMd{8.13}{8.0}\qcstar\tKe\tAe\tBe\tMe{4.43}{6.1}\qcstar\tKf\tAf\tBf\tMf{8.35}{6.47}
\qcstar\tKg\tAg\tBg\tMg{2.03}{4.78}\qcstar\tKh\tAh\tBh\tMh{3.68}{3.9}\qcstar\tKi\tAi\tBi\tMi{5.47}{4.35}
\qcstar\tKj\tAj\tBj\tMj{7.45}{4.9}\qcstar\tKk\tAk\tBk\tMk{1.6}{2.42}\qcstar\tKl\tAl\tBl\tMl{3.78}{1.68}
\qcstar\tKm\tAm\tBm\tMm{5.65}{2.5}\qcstar\tKn\tAn\tBn\tMn{6.75}{1.48}\qcstar\tKo\tAo\tBo\tMo{8.07}{2.4}
\end{axis}
\xten{488.5}{861}\xtenr{867}{488}
\capt{678}{461}{b}{Quasi-cluster centers}
% (c)
\begin{axis}[sc, at={(922pt,536pt)}, anchor=south west]
\clusters{csand}{cpurp}{}
\end{axis}
\xten{922}{861}\xtenr{1300}{488}
\capt{1116}{461}{c}{QCC-PE}
% (d)
\begin{axis}[sc, at={(55pt,73pt)}, anchor=south west]
\clusters{cmag}{cpurp}{}
\end{axis}
\xten{55}{398}\xtenr{433}{25}
\capt{244}{14}{d}{QCC}
% (e)
\begin{axis}[sc, at={(488.5pt,73pt)}, anchor=south west]
\clusters{cmag}{cmag}{color=red}
\end{axis}
\xten{488.5}{398}\xtenr{867}{25}
\capt{677}{14}{e}{DBSCAN}
% (f)
\begin{axis}[sc, at={(922pt,73pt)}, anchor=south west]
\clusters{csand}{cpurp}{}
\end{axis}
\xten{922}{398}\xtenr{1300}{25}
\capt{1112}{14}{f}{DP}
\end{tikzpicture}
\end{document}
